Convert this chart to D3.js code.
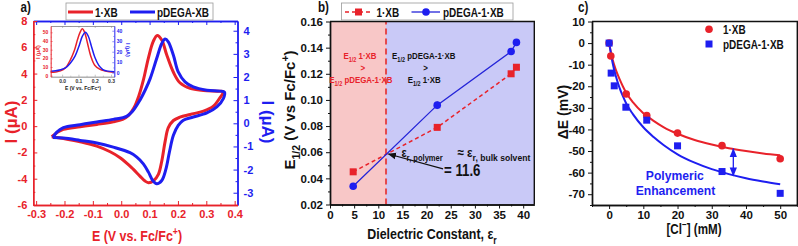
<!DOCTYPE html>
<html>
<head>
<meta charset="utf-8">
<script src="https://cdn.jsdelivr.net/npm/d3@7"></script>
<style>
  body { margin: 0; background: #fff; }
  svg text { font-family: "Liberation Sans", Arial, sans-serif; font-weight: bold; }
</style>
</head>
<body>
<div id="chart"></div>
<script>
/**
 * CONSTANTS
 * */
const width = 798, height = 246;
const RED = "#e8222a", BLUE = "#1e1ef0";
const SQUASH = 0.83; // the source figure is a bit narrower than tall

/**
 * DATA
 * */
// a) cyclic voltammograms, [E (V vs Fc/Fc+), I (uA)]; blue one uses the right axis
const cvRed = [
  [-0.245, -0.80], [-0.227, -0.50], [-0.204, -0.25], [-0.145, -0.05], [-0.086, 0.13], [-0.028, 0.33],
  [0.005, 0.52], [0.025, 0.80], [0.045, 1.40], [0.062, 2.30], [0.078, 3.50], [0.096, 5.20],
  [0.113, 6.45], [0.127, 6.90], [0.143, 6.55], [0.160, 5.45], [0.184, 4.10], [0.207, 3.30],
  [0.243, 2.87], [0.290, 2.71], [0.337, 2.66], [0.360, 2.62],
  [0.348, 2.16], [0.325, 1.52], [0.290, 1.14], [0.243, 0.89], [0.207, 0.68], [0.184, 0.43],
  [0.166, -0.12], [0.155, -1.14], [0.143, -2.66], [0.131, -3.67], [0.113, -4.18], [0.096, -4.30],
  [0.084, -4.18], [0.066, -3.80], [0.043, -3.29], [0.031, -3.04], [-0.004, -2.40], [-0.039, -1.95],
  [-0.086, -1.52], [-0.145, -1.19], [-0.204, -0.94], [-0.245, -0.80]
];
const cvBlue = [
  [-0.241, -0.61], [-0.227, -0.38], [-0.204, -0.19], [-0.145, -0.06], [-0.086, 0.06], [-0.028, 0.17],
  [0.019, 0.30], [0.040, 0.52], [0.066, 1.00], [0.085, 1.45], [0.102, 1.93], [0.125, 2.80],
  [0.143, 3.45], [0.155, 3.64], [0.166, 3.52], [0.184, 2.94], [0.201, 2.22], [0.225, 1.79],
  [0.254, 1.57], [0.302, 1.43], [0.348, 1.39], [0.364, 1.35],
  [0.360, 1.07], [0.337, 0.71], [0.302, 0.45], [0.254, 0.27], [0.219, 0.13], [0.201, -0.09],
  [0.184, -0.52], [0.170, -1.24], [0.158, -1.96], [0.143, -2.47], [0.125, -2.61], [0.111, -2.47],
  [0.096, -2.11], [0.078, -1.75], [0.055, -1.46], [0.031, -1.27], [-0.028, -1.03], [-0.086, -0.85],
  [-0.145, -0.74], [-0.204, -0.64], [-0.241, -0.61]
];
// a) inset, differential pulse peaks
const dpvRed = [
  [-0.07, 4.0], [-0.04, 4.3], [-0.01, 5.5], [0.02, 9], [0.05, 18], [0.075, 29], [0.095, 42],
  [0.11, 50], [0.124, 54], [0.138, 50], [0.155, 38], [0.175, 23], [0.2, 12], [0.23, 7.5],
  [0.26, 5.5], [0.29, 4.6], [0.32, 4.2]
];
const dpvBlue = [
  [-0.07, 1.5], [-0.04, 1.8], [-0.01, 2.8], [0.02, 4.5], [0.05, 9], [0.08, 16], [0.105, 26],
  [0.125, 35], [0.143, 38.5], [0.16, 35], [0.18, 25], [0.2, 15], [0.225, 7], [0.25, 3],
  [0.28, 1.5], [0.32, 1.0]
];

// b) half-wave potential vs dielectric constant
const epsilon = [4.8, 22.2, 37.5, 38.6];
const e12Red = [0.045, 0.079, 0.120, 0.125];
const e12Blue = [0.034, 0.096, 0.137, 0.144];
const e12BlueErr = [0, 0.003, 0, 0];
const epsPolymer = 11.6;

// c) binding titration
const clRed = [0, 0.5, 5, 11, 20, 33, 50];
const dERed = [0, -6, -23.6, -33.6, -41.7, -47.5, -53.6];
const clBlue = [0, 0.6, 1.5, 4.9, 11, 20, 33, 50];
const dEBlue = [0, -13.9, -19.8, -29.7, -35.7, -47.6, -59.5, -69.6];
const fitConc = [0, 0.5, 1, 2, 3, 4, 5, 7, 10, 13, 16, 20, 25, 30, 35, 40, 45, 50];
const fitRed = [0, -4, -7.5, -12.5, -16.5, -20, -23, -27.5, -32.5, -36, -39, -42, -44.9, -47, -48.7, -50, -51.1, -52];
const fitBlue = [0, -4.5, -9, -15.5, -20.5, -24.5, -28, -33, -39, -43.5, -47.3, -51.5, -55.4, -58.4, -60.7, -62.6, -64.1, -65.4];

/**
 * HELPERS
 * */
const svg = d3.select("#chart").append("svg").attr("width", width).attr("height", height);

const defs = svg.append("defs");
function arrowHead(id, color) {
  defs.append("marker").attr("id", id).attr("viewBox", "0 0 10 10").attr("refX", 9).attr("refY", 5)
    .attr("markerWidth", 7).attr("markerHeight", 7).attr("orient", "auto-start-reverse")
    .append("path").attr("d", "M0,1 L10,5 L0,9 z").attr("fill", color);
}
arrowHead("arrK", "#111");
arrowHead("arrB", BLUE);

// text with optional sub/superscripts: parts = ["E", ["1/2","sub"], " (V)"]
function write(g, x, y, parts, o = {}) {
  const fs = o.size || 12;
  const t = g.append("text")
    .attr("transform", `translate(${x},${y}) rotate(${o.rotate || 0}) scale(${o.sx || 1},1)`)
    .attr("text-anchor", o.anchor || "start")
    .attr("fill", o.color || "#111")
    .style("font-size", fs + "px");
  let shift = 0;
  parts.forEach(p => {
    const [s, kind] = Array.isArray(p) ? p : [p, null];
    const target = kind === "sub" ? fs * 0.3 : kind === "sup" ? -fs * 0.4 : 0;
    t.append("tspan").attr("dy", target - shift)
      .style("font-size", kind ? (fs * (o.small || 0.7)) + "px" : null).text(s);
    shift = target;
  });
  return t;
}

// one axis: minor ticks, then major ticks with labels
function axis(g, gen, scale, major, minor, o) {
  const at = g.append("g").attr("transform", o.at);
  at.append("g").call(gen(scale).tickValues(minor).tickSize(o.minor).tickSizeOuter(0).tickFormat(""));
  const m = at.append("g").call(gen(scale).tickValues(major).tickSize(o.size).tickSizeOuter(0)
    .tickPadding(o.pad || 3).tickFormat(o.fmt || (() => "")));
  at.selectAll("g").attr("font-family", null).attr("font-size", null);
  at.selectAll("path.domain").attr("stroke", o.color).attr("stroke-width", o.sw || 1.4);
  at.selectAll(".tick line").attr("stroke", o.color).attr("stroke-width", o.tw || 1);
  m.selectAll("text").attr("fill", o.textColor || o.color).style("font-size", (o.fs || 11) + "px");
}
const f0 = d => String(d), f1 = d => d.toFixed(1), f2 = d => d.toFixed(2);
const mids = (arr, step) => arr.slice(0, -1).map(d => d + step / 2);

/**
 * PANEL A
 * */
const ga = svg.append("g");
const xA = d3.scaleLinear([-0.31, 0.41], [33.3, 237.5]);
const yA = d3.scaleLinear([-6, 8], [205, 21]);
const yA2 = d3.scaleLinear([-3.53, 4.42], [205, 21]);
const cvLine = ys => d3.line().x(d => xA(d[0])).y(d => ys(d[1])).curve(d3.curveCatmullRom.alpha(0.5));

ga.append("path").datum(cvRed).attr("d", cvLine(yA)).attr("fill", "none").attr("stroke", RED).attr("stroke-width", 3);
ga.append("path").datum(cvBlue).attr("d", cvLine(yA2)).attr("fill", "none").attr("stroke", BLUE).attr("stroke-width", 3);

const aTx = [-0.3, -0.2, -0.1, 0, 0.1, 0.2, 0.3, 0.4];
const aTy = [-6, -4, -2, 0, 2, 4, 6, 8];
const aTy2 = [-3, -2, -1, 0, 1, 2, 3, 4];
axis(ga, d3.axisTop, xA, aTx, mids(aTx, 0.1), { at: "translate(0,21)", size: -4, minor: -2, color: BLUE });
axis(ga, d3.axisRight, yA2, aTy2, mids(aTy2, 1), { at: "translate(237.5,0)", size: -4, minor: -2, pad: 6, color: BLUE, fmt: f0 });
axis(ga, d3.axisBottom, xA, aTx, mids(aTx, 0.1), { at: "translate(0,205)", size: -4, minor: -2, pad: 5, color: RED, fmt: f1 });
axis(ga, d3.axisLeft, yA, aTy, mids(aTy, 2), { at: "translate(33.3,0)", size: -4, minor: -2, pad: 6, color: RED, fmt: f0 });

write(ga, 17, 122, ["I (µA)"], { size: 17, rotate: -90, anchor: "middle", color: RED });
write(ga, 262, 122, ["I (µA)"], { size: 17, rotate: 90, anchor: "middle", color: BLUE });
write(ga, 137, 241, ["E (V vs. Fc/Fc", ["+", "sup"], ")"], { size: 15, anchor: "middle", color: RED, sx: SQUASH });
write(ga, 20.5, 12, ["a)"], { size: 14, sx: SQUASH });

// legend a
const la = ga.append("g");
la.append("rect").attr("x", 66).attr("y", 3).attr("width", 147).attr("height", 17)
  .attr("fill", "#fff").attr("stroke", "#999").attr("stroke-width", 0.8);
la.append("line").attr("x1", 68).attr("x2", 93).attr("y1", 12).attr("y2", 12).attr("stroke", RED).attr("stroke-width", 3);
la.append("line").attr("x1", 130).attr("x2", 155).attr("y1", 12).attr("y2", 12).attr("stroke", BLUE).attr("stroke-width", 3);
write(la, 95, 16.5, ["1·XB"], { size: 12, sx: SQUASH });
write(la, 157, 16.5, ["pDEGA-XB"], { size: 12, sx: SQUASH });

// inset
const gi = ga.append("g");
const xI = d3.scaleLinear([-0.07, 0.32], [50.7, 114.3]);
const yI = d3.scaleLinear([-1.2, 57.3], [76.7, 26]);
const yI2 = d3.scaleLinear([-3.8, 44.5], [76.7, 26]);
const dpvLine = ys => d3.line().x(d => xI(d[0])).y(d => ys(d[1])).curve(d3.curveCatmullRom.alpha(0.5));
gi.append("path").datum(dpvRed).attr("d", dpvLine(yI)).attr("fill", "none").attr("stroke", RED).attr("stroke-width", 1.5);
gi.append("path").datum(dpvBlue).attr("d", dpvLine(yI2)).attr("fill", "none").attr("stroke", BLUE).attr("stroke-width", 1.5);
const iTx = [0, 0.1, 0.2, 0.3], iTy = [0, 10, 20, 30, 40, 50], iTy2 = [0, 10, 20, 30, 40];
const small = { size: -2, minor: -1, sw: 0.6, tw: 0.5, fs: 5, pad: 2.5 };
axis(gi, d3.axisTop, xI, iTx, mids(iTx, 0.1), { ...small, at: "translate(0,26)", color: "#888" });
axis(gi, d3.axisBottom, xI, iTx, mids(iTx, 0.1), { ...small, at: "translate(0,76.7)", color: "#888", textColor: "#333", fmt: f1 });
axis(gi, d3.axisLeft, yI, iTy, mids(iTy, 10), { ...small, at: "translate(50.7,0)", color: RED, fmt: f0 });
axis(gi, d3.axisRight, yI2, iTy2, mids(iTy2, 10), { ...small, at: "translate(114.3,0)", color: BLUE, fmt: f0 });
write(gi, 39.5, 52, ["I (µA)"], { size: 5.5, rotate: -90, anchor: "middle", color: RED });
write(gi, 126, 50, ["I (µA)"], { size: 5.5, rotate: 90, anchor: "middle", color: BLUE });
write(gi, 83, 90, ["E (V vs. Fc/Fc", ["+", "sup"], ")"], { size: 6, anchor: "middle", sx: SQUASH });

/**
 * PANEL B
 * */
const gb = svg.append("g");
const xB = d3.scaleLinear([0, 42.3], [330, 534.3]);
const yB = d3.scaleLinear([0.02, 0.16], [204.5, 21.5]);
const [bx0, bx1] = xB.domain(), [by0, by1] = yB.domain();

gb.append("rect").attr("x", xB(bx0)).attr("y", yB(by1)).attr("width", xB(epsPolymer) - xB(bx0))
  .attr("height", yB(by0) - yB(by1)).attr("fill", "#f8c7c7");
gb.append("rect").attr("x", xB(epsPolymer)).attr("y", yB(by1)).attr("width", xB(bx1) - xB(epsPolymer))
  .attr("height", yB(by0) - yB(by1)).attr("fill", "#c9c9f7");
gb.append("line").attr("x1", xB(epsPolymer)).attr("x2", xB(epsPolymer)).attr("y1", yB(by0)).attr("y2", yB(by1))
  .attr("stroke", "#e5484c").attr("stroke-width", 2).attr("stroke-dasharray", "6,4");

const redPts = epsilon.map((e, i) => [e, e12Red[i]]);
const bluePts = epsilon.map((e, i) => [e, e12Blue[i], e12BlueErr[i]]);
const lineB = d3.line().x(d => xB(d[0])).y(d => yB(d[1]));
gb.append("path").datum(redPts).attr("d", lineB).attr("fill", "none").attr("stroke", RED)
  .attr("stroke-width", 1.5).attr("stroke-dasharray", "4,3");
gb.append("path").datum(bluePts).attr("d", lineB).attr("fill", "none").attr("stroke", "#2424d8").attr("stroke-width", 1.3);
gb.selectAll("line.err").data(bluePts.filter(d => d[2] > 0)).join("line").attr("class", "err")
  .attr("x1", d => xB(d[0])).attr("x2", d => xB(d[0]))
  .attr("y1", d => yB(d[1] - d[2])).attr("y2", d => yB(d[1] + d[2])).attr("stroke", "#666").attr("stroke-width", 1);
gb.selectAll("rect.sq").data(redPts).join("rect").attr("class", "sq")
  .attr("x", d => xB(d[0]) - 3.5).attr("y", d => yB(d[1]) - 3.5).attr("width", 7).attr("height", 7).attr("fill", RED);
gb.selectAll("circle.pt").data(bluePts).join("circle").attr("class", "pt")
  .attr("cx", d => xB(d[0])).attr("cy", d => yB(d[1])).attr("r", 3.8).attr("fill", BLUE);

// frame + axes
gb.append("path").attr("d", `M${xB(bx0)},${yB(by1)}H${xB(bx1)}V${yB(by0)}`).attr("fill", "none").attr("stroke", "#111").attr("stroke-width", 1.4);
const bTx = [0, 5, 10, 15, 20, 25, 30, 35, 40];
const bTy = [0.02, 0.04, 0.06, 0.08, 0.10, 0.12, 0.14, 0.16];
axis(gb, d3.axisBottom, xB, bTx, mids(bTx, 5), { at: `translate(0,${yB(by0)})`, size: 4, minor: 2, pad: 2, color: "#111", fmt: f0, fs: 11.5 });
axis(gb, d3.axisLeft, yB, bTy, mids(bTy, 0.02), { at: `translate(${xB(bx0)},0)`, size: 4, minor: 2, pad: 3, color: "#111", fmt: f2, fs: 11.5 });

write(gb, 295, 110, ["E", ["1/2", "sub"], " (V vs Fc/Fc", ["+", "sup"], ")"], { size: 15, rotate: -90, anchor: "middle" });
write(gb, 432, 239, ["Dielectric Constant, ε", ["r", "sub"]], { size: 15, anchor: "middle", sx: SQUASH });
write(gb, 318, 12, ["b)"], { size: 14, sx: SQUASH });

// annotations
const ann = { size: 9.5, anchor: "middle", sx: SQUASH };
write(gb, xB(6.2), yB(0.1313), ["E", ["1/2", "sub"], " 1·XB"], { ...ann, color: RED });
write(gb, xB(6.8), yB(0.1221), [">"], { ...ann, color: RED });
write(gb, xB(6.4), yB(0.1129), ["E", ["1/2", "sub"], " pDEGA-1·XB"], { ...ann, color: RED });
write(gb, xB(19.4), yB(0.1313), ["E", ["1/2", "sub"], " pDEGA-1·XB"], ann);
write(gb, xB(19.8), yB(0.1221), [">"], ann);
write(gb, xB(19.5), yB(0.1129), ["E", ["1/2", "sub"], " 1·XB"], ann);
write(gb, xB(14.8), yB(0.0563), ["ε", ["r, polymer", "sub"]], { size: 13, sx: SQUASH });
write(gb, xB(26.4), yB(0.0563), ["≈ ε", ["r, bulk solvent", "sub"]], { size: 13.5, sx: 0.86, small: 0.74 });
write(gb, xB(23.6), yB(0.0418), ["= 11.6"], { size: 16, sx: SQUASH });
gb.append("line").attr("x1", xB(23.4)).attr("y1", yB(0.0472)).attr("x2", xB(12.1)).attr("y2", yB(0.0586))
  .attr("stroke", "#111").attr("stroke-width", 1.2).attr("marker-end", "url(#arrK)");

// legend b
const lb = gb.append("g");
lb.append("rect").attr("x", 341.5).attr("y", 3).attr("width", 171.5).attr("height", 17)
  .attr("fill", "#fff").attr("stroke", "#999").attr("stroke-width", 0.8);
lb.append("line").attr("x1", 345).attr("x2", 372).attr("y1", 12).attr("y2", 12).attr("stroke", RED)
  .attr("stroke-width", 1.5).attr("stroke-dasharray", "4,3");
lb.append("rect").attr("x", 355).attr("y", 8.5).attr("width", 7).attr("height", 7).attr("fill", RED);
lb.append("line").attr("x1", 411.5).attr("x2", 440).attr("y1", 12).attr("y2", 12).attr("stroke", "#2424d8").attr("stroke-width", 1.3);
lb.append("circle").attr("cx", 426).attr("cy", 12).attr("r", 3.8).attr("fill", BLUE);
write(lb, 376.5, 16.5, ["1·XB"], { size: 12, sx: SQUASH });
write(lb, 443, 16.5, ["pDEGA-1·XB"], { size: 12, sx: SQUASH });

/**
 * PANEL C
 * */
const gc = svg.append("g");
const xC = d3.scaleLinear([-5, 55], [592, 797.3]);
const yC = d3.scaleLinear([-75, 10], [205, 21.5]);
const [cx0, cx1] = xC.domain(), [cy0, cy1] = yC.domain();

const fitLine = d3.line().x((d, i) => xC(fitConc[i])).y(d => yC(d)).curve(d3.curveMonotoneX);
gc.append("path").datum(fitRed).attr("d", fitLine).attr("fill", "none").attr("stroke", RED).attr("stroke-width", 2);
gc.append("path").datum(fitBlue).attr("d", fitLine).attr("fill", "none").attr("stroke", BLUE).attr("stroke-width", 2);

gc.selectAll("circle.pt").data(clRed.map((c, i) => [c, dERed[i]])).join("circle").attr("class", "pt")
  .attr("cx", d => xC(d[0])).attr("cy", d => yC(d[1])).attr("r", 3.8).attr("fill", RED);
gc.selectAll("rect.sq").data(clBlue.map((c, i) => [c, dEBlue[i]])).join("rect").attr("class", "sq")
  .attr("x", d => xC(d[0]) - 3.5).attr("y", d => yC(d[1]) - 3.5).attr("width", 7).attr("height", 7).attr("fill", BLUE);

// enhancement arrow between the two fits
gc.append("line").attr("x1", xC(36.3)).attr("x2", xC(36.3)).attr("y1", yC(-49)).attr("y2", yC(-61.4))
  .attr("stroke", BLUE).attr("stroke-width", 1.3)
  .attr("marker-start", "url(#arrB)").attr("marker-end", "url(#arrB)");
write(gc, xC(19.2), yC(-63.2), ["Polymeric"], { size: 13.5, anchor: "middle", color: BLUE, sx: 0.9 });
write(gc, xC(19.4), yC(-70.4), ["Enhancement"], { size: 13.5, anchor: "middle", color: BLUE, sx: 0.9 });

gc.append("path").attr("d", `M${xC(cx0)},${yC(cy1)}H${xC(cx1)}V${yC(cy0)}`).attr("fill", "none").attr("stroke", "#111").attr("stroke-width", 1.4);
const cTx = [0, 10, 20, 30, 40, 50];
const cTy = [-70, -60, -50, -40, -30, -20, -10, 0, 10];
axis(gc, d3.axisBottom, xC, cTx, [-5, ...mids(cTx, 10), 55], { at: `translate(0,${yC(cy0)})`, size: 4, minor: 2, pad: 1.5, color: "#111", fmt: f0, fs: 11.5 });
axis(gc, d3.axisLeft, yC, cTy, [-75, ...mids(cTy, 10)], { at: `translate(${xC(cx0)},0)`, size: 4, minor: 2, pad: 3, color: "#111", fmt: f0, fs: 11.5 });

write(gc, 568, 112, ["ΔE (mV)"], { size: 14, rotate: -90, anchor: "middle" });
write(gc, 694, 234, ["[Cl", ["−", "sup"], "] (mM)"], { size: 14, anchor: "middle", sx: SQUASH });
write(gc, 578, 12, ["c)"], { size: 14, sx: SQUASH });

// legend c
gc.append("circle").attr("cx", 709).attr("cy", 29.3).attr("r", 3.8).attr("fill", RED);
gc.append("rect").attr("x", 705.5).attr("y", 40.5).attr("width", 7).attr("height", 7).attr("fill", BLUE);
write(gc, 723, 33.5, ["1·XB"], { size: 12, sx: SQUASH });
write(gc, 723, 48.5, ["pDEGA-1·XB"], { size: 12, sx: SQUASH });
</script>
</body>
</html>
